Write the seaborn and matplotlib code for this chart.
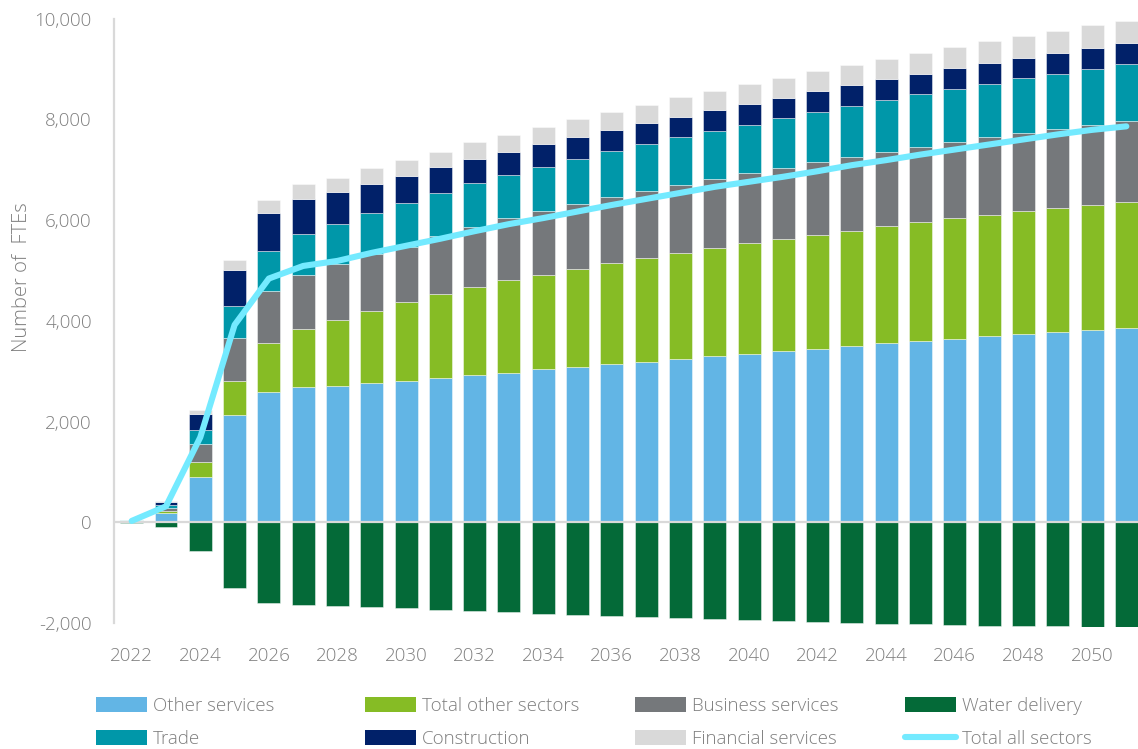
import numpy as np
import pandas as pd
import matplotlib
matplotlib.use("Agg")
import matplotlib.pyplot as plt
from matplotlib.patches import Patch
from matplotlib.lines import Line2D
from matplotlib.ticker import FuncFormatter
import seaborn as sns

# ---- data (FTEs by sector, per year) ----
years = list(range(2022, 2052))

other_services = [10, 180, 900, 2130, 2590, 2680, 2710, 2760, 2806, 2872,
                  2919, 2971, 3038, 3084, 3144, 3190, 3243, 3297, 3342, 3396,
                  3448, 3501, 3555, 3592, 3646, 3692, 3733, 3779, 3819, 3859]
total_other_sectors = [5, 40, 300, 670, 970, 1160, 1310, 1436, 1563, 1656,
                       1748, 1835, 1879, 1952, 2006, 2065, 2105, 2145, 2199, 2224,
                       2264, 2290, 2324, 2370, 2389, 2411, 2443, 2458, 2484, 2506]
business_services = [10, 70, 350, 860, 1040, 1080, 1110, 1134, 1105, 1164,
                     1204, 1231, 1259, 1279, 1310, 1325, 1351, 1376, 1390, 1423,
                     1444, 1458, 1475, 1484, 1512, 1537, 1545, 1564, 1579, 1597]
trade = [15, 55, 280, 640, 780, 810, 800, 807, 874, 848,
         862, 866, 886, 900, 914, 933, 947, 953, 965, 980,
         992, 1019, 1033, 1054, 1060, 1068, 1095, 1102, 1120, 1136]
construction = [5, 65, 320, 700, 770, 690, 620, 583, 529, 510,
                482, 457, 451, 437, 417, 411, 409, 404, 411, 404,
                404, 411, 403, 403, 410, 416, 403, 416, 417, 409]
financial_services = [5, 10, 80, 200, 250, 300, 280, 310, 313, 310,
                      325, 338, 337, 351, 361, 364, 378, 391, 384, 391,
                      397, 403, 410, 416, 422, 436, 442, 442, 449, 449]
water_delivery = [-10, -100, -560, -1300, -1590, -1630, -1656, -1676, -1702, -1729,
                  -1755, -1782, -1808, -1828, -1848, -1868, -1888, -1908, -1927, -1954,
                  -1974, -1994, -2006, -2020, -2040, -2053, -2060, -2063, -2066, -2069]
total_all_sectors = [30, 320, 1690, 3920, 4840, 5090, 5190, 5350, 5490, 5630,
                     5780, 5920, 6040, 6170, 6300, 6420, 6540, 6660, 6760, 6860,
                     6970, 7090, 7190, 7300, 7400, 7500, 7600, 7700, 7790, 7860]

y_ticks = [-2000, 0, 2000, 4000, 6000, 8000, 10000]
x_ticks = list(range(2022, 2051, 2))

df = pd.DataFrame({
    "year": years,
    "Other services": other_services,
    "Total other sectors": total_other_sectors,
    "Business services": business_services,
    "Trade": trade,
    "Construction": construction,
    "Financial services": financial_services,
    "Water delivery": water_delivery,
    "Total all sectors": total_all_sectors,
})

colors = {
    "Other services": "#62B5E5",
    "Total other sectors": "#86BC25",
    "Business services": "#75787B",
    "Trade": "#0097A9",
    "Construction": "#012169",
    "Financial services": "#D9D9D9",
    "Water delivery": "#046A38",
}
line_color = "#74EAFF"
text_color = "#7F7F7F"
axis_grey = "#D9D9D9"

sns.set_style("white")
plt.rcParams["font.family"] = ["Open Sans", "DejaVu Sans"]
plt.rcParams["font.weight"] = "light"
FS = 13.5

W, H = 1138, 749
fig = plt.figure(figsize=(W / 100, H / 100), dpi=100)
ax_left = 114 / W
ax_bottom = 1 - 626.5 / H
ax_top = 1 - 18.5 / H
ax = fig.add_axes([ax_left, ax_bottom, 1 - ax_left, ax_top - ax_bottom])

bar_kws = dict(native_scale=True, width=0.67, saturation=1, errorbar=None,
               edgecolor=(1, 1, 1, 0.45), linewidth=0.7, ax=ax)

# positive stack, bottom to top
stack_order = ["Other services", "Total other sectors", "Business services",
               "Trade", "Construction", "Financial services"]
bottom = np.zeros(len(years))
for name in stack_order:
    sns.barplot(data=df, x="year", y=name, color=colors[name],
                bottom=bottom.copy(), **bar_kws)
    bottom += df[name].to_numpy()

# negative contribution
sns.barplot(data=df, x="year", y="Water delivery", color=colors["Water delivery"],
            **bar_kws)

# net total line
sns.lineplot(data=df, x="year", y="Total all sectors", color=line_color,
             linewidth=4.4, solid_capstyle="round", ax=ax, zorder=5)

ax.axhline(0, color=axis_grey, linewidth=1.6, zorder=4)

ax.set_xlim(2021.484, 2051.34)
ax.set_ylim(-2065, 10000)
ax.set_xticks(x_ticks)
ax.set_xticklabels([str(y) for y in x_ticks])
ax.set_yticks(y_ticks)
ax.yaxis.set_major_formatter(FuncFormatter(lambda v, p: f"{v:,.0f}"))
ax.set_xlabel("")
ax.set_ylabel("")

for side in ["top", "right", "bottom"]:
    ax.spines[side].set_visible(False)
ax.spines["left"].set_color(axis_grey)
ax.spines["left"].set_linewidth(1.6)
ax.spines["left"].set_bounds(-2000, 10000)

ax.tick_params(axis="y", direction="out", length=5, width=1.2, color=axis_grey,
               pad=11, labelsize=FS, labelcolor=text_color)
ax.tick_params(axis="x", length=0, pad=15, labelsize=FS, labelcolor=text_color)
ax.grid(False)

fig.text(22 / W, 1 - 277 / H, "Number of  FTEs", rotation=90, ha="center",
         va="center", fontsize=14.5, color=text_color)

# legend: four columns, two rows
columns = [
    ["Other services", "Trade"],
    ["Total other sectors", "Construction"],
    ["Business services", "Financial services"],
    ["Water delivery", "Total all sectors"],
]
col_x = [96, 365, 635, 905]
for names, x in zip(columns, col_x):
    handles = []
    for nm in names:
        if nm == "Total all sectors":
            handles.append(Line2D([0], [0], color=line_color, linewidth=4.4,
                                  solid_capstyle="round"))
        else:
            handles.append(Patch(facecolor=colors[nm], edgecolor="none"))
    fig.legend(handles, names, loc="upper left",
               bbox_to_anchor=(x / W, 1 - 697 / H), frameon=False,
               borderpad=0, borderaxespad=0, handlelength=2.72,
               handleheight=0.85, handletextpad=0.32, labelspacing=0.78,
               fontsize=FS, labelcolor=text_color)

fig.savefig("out.png", dpi=100, facecolor="white")
